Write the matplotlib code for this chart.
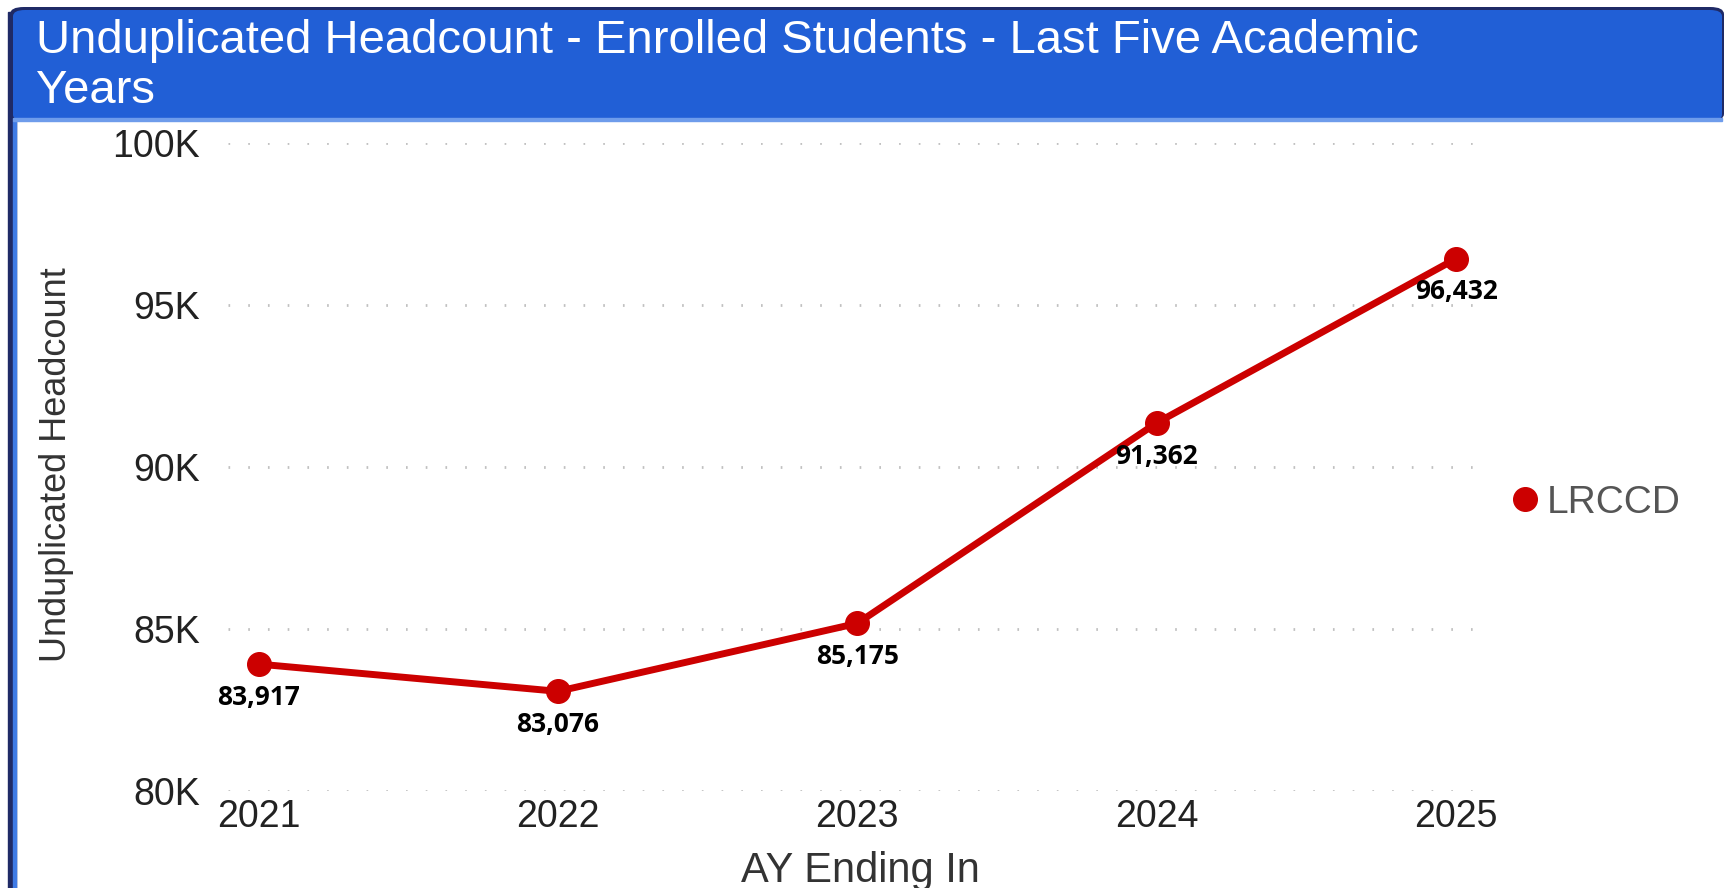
import matplotlib
matplotlib.use("Agg")
import matplotlib.pyplot as plt
from matplotlib.patches import FancyBboxPatch, Rectangle
from matplotlib.lines import Line2D
from matplotlib.ticker import FuncFormatter

# data
years = ["2021", "2022", "2023", "2024", "2025"]
headcount = [83917, 83076, 85175, 91362, 96432]
series_name = "LRCCD"

title_lines = ["Unduplicated Headcount - Enrolled Students - Last Five Academic", "Years"]
y_label = "Unduplicated Headcount"
x_label = "AY Ending In"

W, H = 1732, 888
red = "#CC0000"
band_blue = "#215FD6"

plt.rcParams["font.family"] = ["Liberation Sans", "DejaVu Sans"]

fig = plt.figure(figsize=(W / 100, H / 100), dpi=100)
fig.patch.set_facecolor("white")


def fx(px):
    return px / W


def fy(py):
    return 1 - py / H


# title band with dark frame on top and left
fig.patches.append(Rectangle((fx(8), fy(888)), fx(8), fy(12) - fy(888),
                             transform=fig.transFigure, color="#1F2A66", zorder=0))
fig.patches.append(Rectangle((fx(13), fy(888)), fx(3), fy(121) - fy(888),
                             transform=fig.transFigure, color="#3F7BE6", zorder=1))
fig.patches.append(FancyBboxPatch((fx(10), fy(121)), fx(1714), fy(7) - fy(121),
                                  boxstyle="round,pad=0,rounding_size=0.008",
                                  transform=fig.transFigure, facecolor="#1F2A66",
                                  edgecolor="none", zorder=1))
fig.patches.append(FancyBboxPatch((fx(13), fy(121)), fx(1709), fy(10) - fy(121),
                                  boxstyle="round,pad=0,rounding_size=0.007",
                                  transform=fig.transFigure, facecolor=band_blue,
                                  edgecolor="none", zorder=2))
fig.patches.append(Rectangle((fx(13), fy(121)), fx(1709), fy(118) - fy(121),
                             transform=fig.transFigure, color="#6E9CEB", zorder=3))

fig.text(fx(36), fy(53), title_lines[0], color="white", fontsize=34,
         ha="left", va="baseline", zorder=5)
fig.text(fx(36), fy(103), title_lines[1], color="white", fontsize=34,
         ha="left", va="baseline", zorder=5)

# plot area
ax = fig.add_axes([fx(228), fy(791), fx(1475 - 228), fy(143) - fy(791)])
x = list(range(len(years)))
ax.plot(x, headcount, color=red, linewidth=5, marker="o", markersize=17,
        solid_capstyle="round", clip_on=False, zorder=3)

for xi, v in zip(x, headcount):
    ax.annotate(f"{v:,}", (xi, v), xytext=(0, -24), textcoords="offset points",
                ha="center", va="center", fontsize=19, fontweight="bold",
                family=["Open Sans", "DejaVu Sans"], color="black", zorder=4)

ax.set_xlim(-0.102, 4.063)
ax.set_ylim(80000, 100000)
ax.set_yticks([80000, 85000, 90000, 95000, 100000])
ax.yaxis.set_major_formatter(FuncFormatter(lambda v, p: f"{v / 1000:.0f}K"))
ax.set_xticks(x)
ax.set_xticklabels(years)

ax.grid(axis="y", color="#C0C0C0", linewidth=2, linestyle=(0, (0.6, 6.5)))
ax.set_axisbelow(True)
for s in ax.spines.values():
    s.set_visible(False)
ax.tick_params(axis="both", length=0, labelsize=27, labelcolor="#222222")
ax.tick_params(axis="y", pad=20)
ax.tick_params(axis="x", pad=6)

fig.text(fx(56), fy(465), y_label, rotation=90, ha="center", va="center",
         fontsize=26, color="#333333")
fig.text(fx(860), fy(882), x_label, ha="center", va="baseline",
         fontsize=30, color="#333333")

handle = Line2D([], [], color=red, marker="o", linestyle="none", markersize=17)
fig.legend([handle], [series_name], loc="center left",
           bbox_to_anchor=(fx(1510), fy(503)), frameon=False, fontsize=28,
           handlelength=0.75, handletextpad=0.2, borderpad=0, borderaxespad=0,
           labelcolor="#555555")

fig.savefig("out.png", dpi=100)
